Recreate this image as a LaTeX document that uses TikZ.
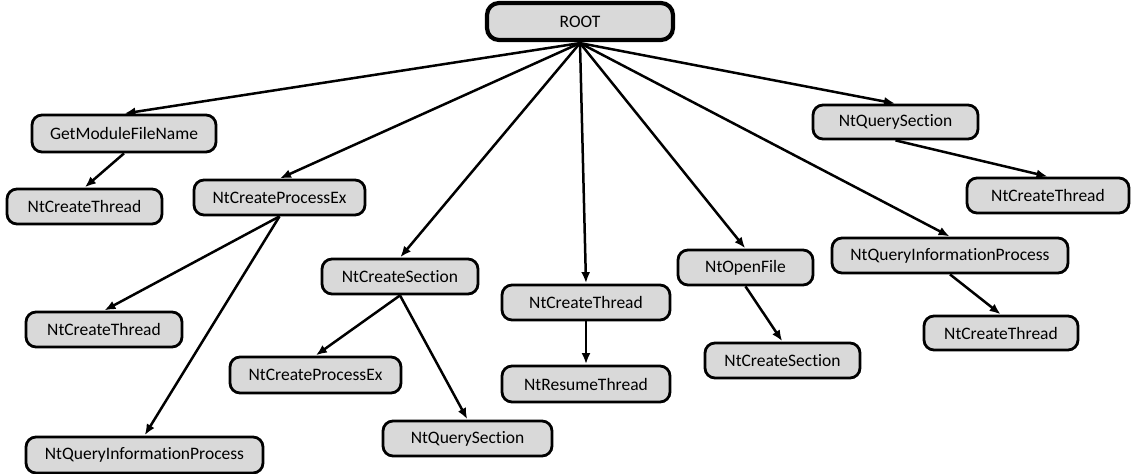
\documentclass[tikz,border=0pt]{standalone}
\usepackage{fontspec}
\setmainfont{Carlito}[Ligatures=NoCommon]
\usetikzlibrary{arrows.meta}

\definecolor{boxfill}{HTML}{D9D9D9}

\tikzset{
  call/.style={draw=black, line width=2.8pt, fill=boxfill, rounded corners=10pt,
    inner sep=0pt, align=center, font=\fontsize{17.5}{20}\selectfont},
  rootbox/.style={call, line width=4.2pt, rounded corners=12pt},
  link/.style={line width=2.5pt, -{Latex[length=11pt,width=9pt]}, shorten >=0.5pt}
}

\newcommand{\callnode}[6][call]{%
  \node[#1, minimum width=#4pt, minimum height=#5pt] (#2) at (#3) {#6};}

\begin{document}
\begin{tikzpicture}[x=1pt, y=-1pt]
\useasboundingbox (0,0) rectangle (1133,474);

% call nodes: name, centre, width, height, label
\callnode[rootbox]{root}{580,21.5}{186}{37}{ROOT}
\callnode{gmf}{124,133.5}{184}{37}{GetModuleFileName}
\callnode{ctA}{84.5,206.5}{155}{35}{NtCreateThread}
\callnode{cpeA}{279.5,197.5}{171}{35}{NtCreateProcessEx}
\callnode{ctB}{104,329.5}{156}{35}{NtCreateThread}
\callnode{qipA}{144.5,455}{237}{36}{NtQueryInformationProcess}
\callnode{csA}{400,276.5}{156}{35}{NtCreateSection}
\callnode{cpeB}{315.5,375}{171}{36}{NtCreateProcessEx}
\callnode{qsA}{467.5,438.5}{169}{35}{NtQuerySection}
\callnode{ctC}{586,302.5}{168}{35}{NtCreateThread}
\callnode{rt}{586,384}{168}{36}{NtResumeThread}
\callnode{of}{745.5,267.5}{135}{35}{NtOpenFile}
\callnode{csB}{782.5,360.5}{155}{35}{NtCreateSection}
\callnode{qipB}{950,255.5}{236}{35}{NtQueryInformationProcess}
\callnode{ctD}{1001,333}{154}{34}{NtCreateThread}
\callnode{qsB}{895.5,122}{165}{34}{NtQuerySection}
\callnode{ctE}{1048,195.5}{162}{35}{NtCreateThread}

% calls made from the root
\coordinate (hub) at ([yshift=-1pt]root.south);
\foreach \n in {gmf,cpeA,csA,ctC,of,qipB,qsB}
  \draw[link] (hub) -- (\n.north);

% nested calls
\draw[link] (gmf.south) -- (ctA.north);
\draw[link] (cpeA.south) -- (ctB.north);
\draw[link] (cpeA.south) -- (qipA.north);
\draw[link] (csA.south) -- (cpeB.north);
\draw[link] (csA.south) -- (qsA.north);
\draw[link] (ctC.south) -- (rt.north);
\draw[link] (of.south) -- (csB.north);
\draw[link] (qipB.south) -- (ctD.north);
\draw[link] (qsB.south) -- (ctE.north);
\end{tikzpicture}
\end{document}
